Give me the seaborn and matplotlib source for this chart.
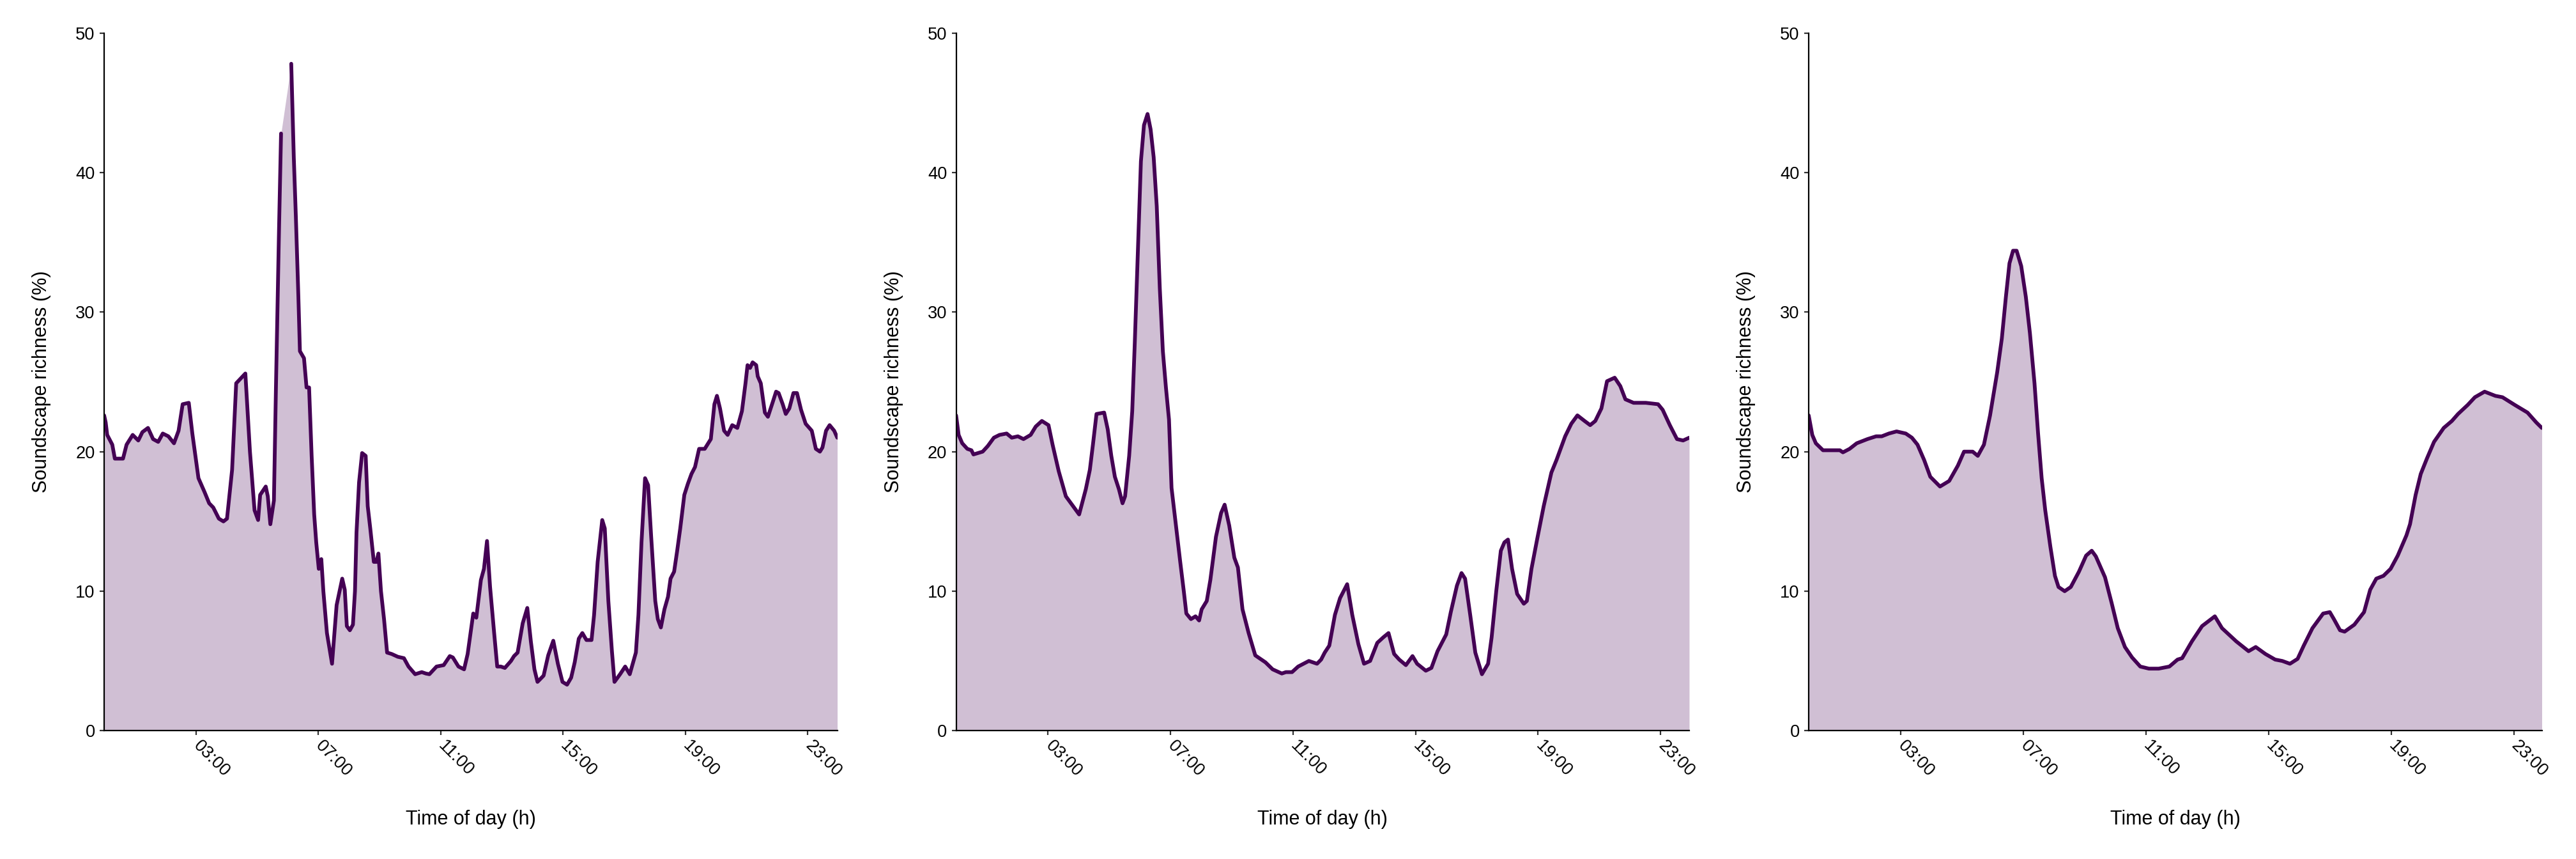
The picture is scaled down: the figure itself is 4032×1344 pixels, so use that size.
import numpy as np
import pandas as pd
import matplotlib
matplotlib.use("Agg")
import matplotlib.pyplot as plt
import seaborn as sns

# ---------------- data ----------------
times_a = ["00:00","00:03","00:06","00:16","00:21","00:37","00:44","00:56","01:07","01:15",
           "01:26","01:36","01:46","01:55","02:06","02:17","02:26","02:34","02:46","02:53",
           "03:05","03:17","03:26","03:34","03:45","03:54","04:01","04:11","04:19","04:37",
           "04:46","04:55","05:02","05:06","05:17","05:21","05:26","05:33","05:37","05:43",
           "05:47","05:57","06:07","06:12","06:16","06:21","06:24","06:32","06:37","06:42",
           "06:47","06:52","06:56","07:01","07:06","07:10","07:17","07:27","07:36","07:47",
           "07:52","07:56","08:02","08:08","08:12","08:15","08:20","08:26","08:33","08:37",
           "08:42","08:49","08:54","08:58","09:03","09:09","09:15","09:24","09:36","09:48",
           "09:57","10:10","10:23","10:31","10:38","10:52","11:06","11:18","11:24","11:35",
           "11:46","11:53","12:04","12:10","12:19","12:25","12:31","12:37","12:45","12:51",
           "12:58","13:06","13:18","13:24","13:31","13:41","13:50","13:57","14:04","14:10",
           "14:22","14:31","14:41","14:50","14:59","15:08","15:16","15:23","15:31","15:38",
           "15:46","15:56","16:01","16:08","16:17","16:22","16:29","16:36","16:41","16:52",
           "17:02","17:11","17:23","17:28","17:34","17:41","17:47","17:53","18:01","18:06",
           "18:12","18:19","18:26","18:31","18:38","18:44","18:50","18:58","19:05","19:12",
           "19:19","19:27","19:38","19:50","19:57","20:02","20:08","20:16","20:23","20:32",
           "20:42","20:51","20:58","21:02","21:07","21:12","21:19","21:22","21:28","21:36",
           "21:42","21:51","21:58","22:03","22:11","22:17","22:24","22:32","22:39","22:47",
           "22:56","23:08","23:16","23:24","23:29","23:36","23:43","23:52","23:58"]
richness_a = [22.6,22.1,21.2,20.5,19.5,19.5,20.5,21.2,20.8,21.4,
              21.7,20.9,20.7,21.3,21.1,20.6,21.5,23.4,23.5,21.3,
              18.1,17.1,16.3,16.0,15.2,15.0,15.2,18.7,24.9,25.6,
              20.0,15.8,15.1,16.9,17.5,16.8,14.8,16.5,24.6,35.9,
              42.8,None,47.8,41.1,36.9,31.1,27.2,26.7,24.6,24.6,
              19.7,15.5,13.5,11.6,12.3,10.0,7.0,4.8,9.0,10.9,
              10.1,7.5,7.2,7.6,10.0,14.2,17.8,19.9,19.7,16.1,
              14.5,12.1,12.1,12.7,10.0,8.0,5.6,5.5,5.3,5.2,
              4.6,4.05,4.2,4.1,4.05,4.6,4.7,5.35,5.25,4.6,
              4.4,5.5,8.4,8.1,10.8,11.6,13.6,10.3,7.0,4.6,
              4.6,4.5,5.0,5.35,5.6,7.7,8.8,6.4,4.4,3.5,
              3.95,5.4,6.45,4.8,3.5,3.3,3.8,4.9,6.6,7.0,
              6.5,6.5,8.3,12.1,15.1,14.5,9.3,5.7,3.5,4.05,
              4.6,4.05,5.6,8.3,13.5,18.1,17.6,13.9,9.3,8.0,
              7.4,8.7,9.6,10.9,11.4,12.9,14.5,16.9,17.7,18.4,
              18.9,20.2,20.2,20.9,23.4,24.0,23.1,21.5,21.2,21.9,
              21.7,22.9,24.9,26.2,26.0,26.4,26.2,25.4,24.9,22.8,
              22.5,23.5,24.3,24.2,23.4,22.7,23.1,24.2,24.2,23.0,
              22.0,21.5,20.2,20.0,20.3,21.5,21.9,21.5,21.0]

times_b = ["00:00","00:05","00:12","00:22","00:30","00:34","00:43","00:52","01:02","01:14",
           "01:25","01:39","01:49","02:01","02:12","02:26","02:36","02:48","03:01","03:09",
           "03:21","03:35","03:47","04:01","04:14","04:22","04:28","04:35","04:50","04:57",
           "05:04","05:11","05:19","05:26","05:31","05:39","05:45","05:50","05:56","06:02",
           "06:08","06:15","06:21","06:27","06:33","06:39","06:45","06:51","06:57","07:02",
           "07:09","07:19","07:26","07:31","07:40","07:49","07:56","08:01","08:11","08:18",
           "08:29","08:39","08:46","08:55","09:05","09:12","09:21","09:33","09:46","10:06",
           "10:20","10:38","10:46","10:58","11:10","11:31","11:47","11:55","12:02","12:11",
           "12:22","12:32","12:46","12:56","13:08","13:19","13:31","13:45","13:57","14:07",
           "14:18","14:28","14:41","14:54","15:03","15:20","15:31","15:43","16:00","16:09",
           "16:21","16:30","16:37","16:47","16:57","17:10","17:22","17:29","17:38","17:47",
           "17:54","18:01","18:09","18:19","18:32","18:38","18:47","18:58","19:11","19:26",
           "19:36","19:53","20:05","20:17","20:31","20:42","20:52","21:04","21:15","21:30",
           "21:41","21:51","22:07","22:17","22:31","22:55","23:04","23:18","23:32","23:44",
           "23:56"]
richness_b = [22.6,21.2,20.6,20.2,20.1,19.8,19.9,20.0,20.4,21.0,
              21.2,21.3,21.0,21.1,20.9,21.2,21.8,22.2,21.9,20.5,
              18.6,16.8,16.2,15.5,17.3,18.7,20.5,22.7,22.8,21.6,
              19.7,18.2,17.3,16.3,16.8,19.7,22.9,27.8,34.3,40.8,
              43.4,44.2,43.1,41.1,37.6,31.7,27.2,24.6,22.3,17.4,
              15.2,12.1,10.0,8.4,8.0,8.2,7.9,8.7,9.3,10.8,
              13.9,15.6,16.2,14.7,12.4,11.7,8.7,7.0,5.4,4.9,
              4.4,4.1,4.2,4.2,4.6,5.0,4.8,5.1,5.6,6.1,
              8.3,9.5,10.5,8.3,6.2,4.8,5.0,6.3,6.7,7.0,
              5.5,5.1,4.7,5.35,4.8,4.3,4.5,5.7,6.9,8.5,
              10.4,11.3,10.9,8.3,5.6,4.05,4.8,6.7,10.0,12.9,
              13.5,13.7,11.6,9.8,9.1,9.3,11.6,13.7,16.1,18.5,
              19.4,21.1,22.0,22.6,22.2,21.9,22.2,23.1,25.05,25.3,
              24.7,23.75,23.5,23.5,23.5,23.4,23.0,21.9,20.9,20.8,
              21.0]

times_c = ["00:00","00:07","00:14","00:28","00:44","01:01","01:07","01:20","01:34","01:55",
           "02:12","02:23","02:37","02:52","03:10","03:22","03:33","03:46","03:58","04:17",
           "04:35","04:52","05:04","05:21","05:31","05:43","05:55","06:09","06:18","06:26",
           "06:33","06:40","06:47","06:56","07:05","07:13","07:22","07:29","07:36","07:43",
           "07:53","08:02","08:09","08:21","08:33","08:49","09:03","09:14","09:22","09:40",
           "09:53","10:05","10:19","10:33","10:49","11:06","11:25","11:46","12:02","12:11",
           "12:30","12:50","13:15","13:29","13:57","14:21","14:35","14:54","15:13","15:27",
           "15:42","15:57","16:09","16:26","16:47","17:00","17:08","17:20","17:29","17:48",
           "18:07","18:19","18:31","18:45","18:59","19:13","19:30","19:37","19:48","19:58",
           "20:10","20:24","20:43","20:59","21:11","21:30","21:44","22:03","22:24","22:38",
           "23:02","23:27","23:44","23:55"]
richness_c = [22.6,21.2,20.6,20.1,20.1,20.1,19.95,20.2,20.6,20.9,
              21.1,21.1,21.3,21.45,21.3,21.0,20.5,19.4,18.2,17.5,
              17.9,19.0,20.0,20.0,19.7,20.5,22.6,25.7,28.1,31.1,
              33.5,34.4,34.4,33.3,31.1,28.5,24.9,21.3,18.1,15.8,
              13.2,11.1,10.3,10.0,10.3,11.4,12.55,12.9,12.5,11.0,
              9.15,7.35,6.0,5.25,4.6,4.45,4.45,4.6,5.1,5.2,
              6.4,7.5,8.2,7.35,6.4,5.7,6.0,5.5,5.1,5.0,
              4.8,5.15,6.1,7.35,8.4,8.5,8.0,7.2,7.1,7.6,
              8.5,10.1,10.9,11.1,11.6,12.55,14.0,14.8,16.9,18.4,
              19.5,20.7,21.7,22.2,22.7,23.35,23.9,24.3,24.0,23.9,
              23.35,22.8,22.1,21.7]

tick_hours = [3, 7, 11, 15, 19, 23]
tick_labels = ["03:00", "07:00", "11:00", "15:00", "19:00", "23:00"]
y_ticks = [0, 10, 20, 30, 40, 50]

x_title = "Time of day (h)"
y_title = "Soundscape richness (%)"

LINE = "#440154"

# ---------------- style ----------------
sns.set_style("ticks")
plt.rcParams["font.family"] = ["Liberation Sans", "DejaVu Sans"]

fig = plt.figure(figsize=(20.16, 6.72), dpi=200)

W = 4032.0
H = 1344.0
ax_lefts = [163.0, 1496.5, 2831.0]
ax_w = 1147.5
ax_bottom_px = 1143.3
ax_top_px = 51.7


def make_frame(times, values):
    hrs = [int(t[:2]) + int(t[3:]) / 60.0 for t in times]
    vals = np.array([np.nan if v is None else v for v in values], dtype=float)
    seg = np.cumsum(np.isnan(vals))
    return pd.DataFrame({"hour": hrs, "value": vals, "seg": seg})


panels = [(times_a, richness_a), (times_b, richness_b), (times_c, richness_c)]

for left_px, (tms, vals) in zip(ax_lefts, panels):
    ax = fig.add_axes([left_px / W, (H - ax_bottom_px) / H, ax_w / W,
                       (ax_bottom_px - ax_top_px) / H])
    df = make_frame(tms, vals)
    filled = df.dropna()
    ax.fill_between(filled["hour"], 0, filled["value"], color=LINE, alpha=0.25,
                    linewidth=0, zorder=1)
    sns.lineplot(data=filled, x="hour", y="value", units="seg", estimator=None,
                 color=LINE, linewidth=2.1, ax=ax, zorder=3, sort=True)

    ax.set_xlim(df["hour"].min(), df["hour"].max())
    ax.set_ylim(0, 50)
    ax.set_yticks(y_ticks)
    ax.set_yticklabels([str(v) for v in y_ticks])
    ax.set_xticks(tick_hours)
    ax.set_xticklabels(tick_labels)

    sns.despine(ax=ax)
    for s in ("left", "bottom"):
        ax.spines[s].set_linewidth(0.8)
        ax.spines[s].set_color("black")
        ax.spines[s].set_zorder(4)

    ax.tick_params(axis="both", length=2.6, width=0.8, color="#333333",
                   labelsize=9.8, labelcolor="black", pad=2.5)
    ax.tick_params(axis="x", pad=4.5)
    for lbl in ax.get_xticklabels():
        lbl.set_rotation(-45)
        lbl.set_ha("left")
        lbl.set_va("center")
        lbl.set_rotation_mode("anchor")

    ax.set_xlabel(x_title, fontsize=11.0, color="black")
    ax.set_ylabel(y_title, fontsize=11.0, color="black")
    ax.xaxis.set_label_coords(0.5, -0.113)
    ax.yaxis.set_label_coords(-0.072, 0.5)
    ax.grid(False)

fig.savefig("out.png", dpi=200, facecolor="white")
